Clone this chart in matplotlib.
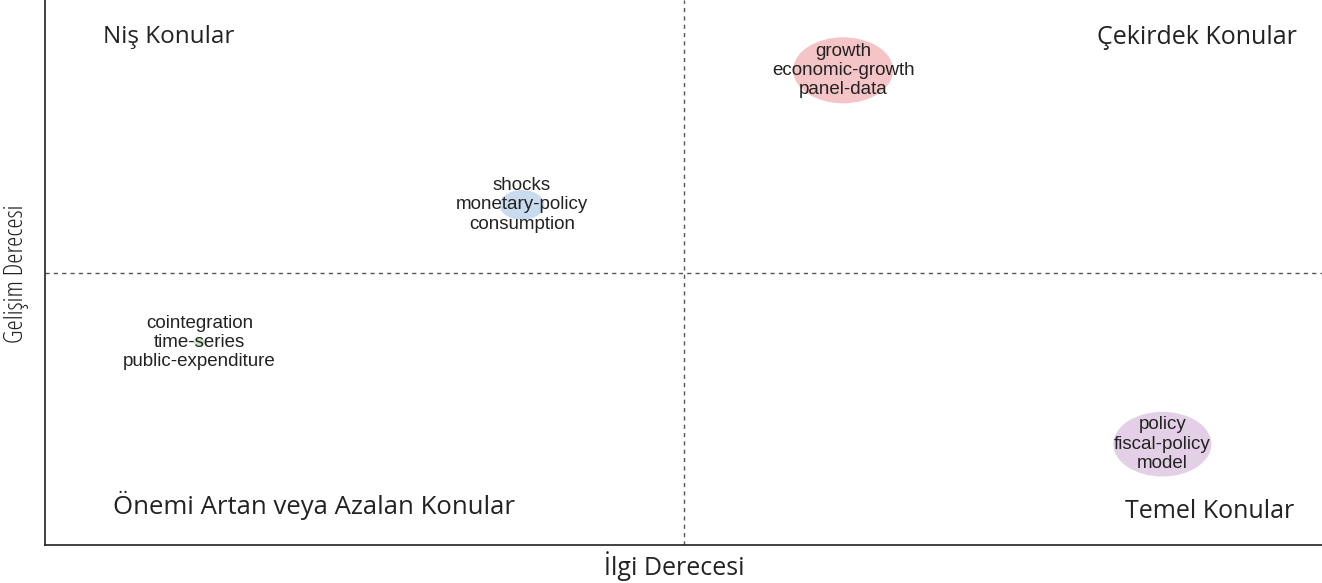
import matplotlib
matplotlib.use("Agg")
import matplotlib.pyplot as plt
from matplotlib.patches import Ellipse

# Data
centrality = [0.625, 0.3735, 0.121, 0.875]          # İlgi Derecesi (x)
density = [0.871, 0.624, 0.372, 0.185]             # Gelişim Derecesi (y)
bubble_size = [100, 45, 12, 98]                   # relative bubble size
labels = [
    "growth\neconomic-growth\npanel-data",
    "shocks\nmonetary-policy\nconsumption",
    "cointegration\ntime-series\npublic-expenditure",
    "policy\nfiscal-policy\nmodel",
]
colors = ["#f5c4c6", "#c9dbee", "#cfe8cc", "#e3cfe6"]
quadrant_labels = ["Niş Konular", "Çekirdek Konular",
                   "Önemi Artan veya Azalan Konular", "Temel Konular"]

W, H = 1322, 583
fig = plt.figure(figsize=(W / 100, H / 100), dpi=100)
ax_l, ax_b, ax_r, ax_t = 45, 38, 1322, 583
ax = fig.add_axes([ax_l / W, ax_b / H, (ax_r - ax_l) / W, (ax_t - ax_b) / H])
ax.set_xlim(0, 1)
ax.set_ylim(0, 1)
ax_wpx = ax_r - ax_l
ax_hpx = ax_t - ax_b

for x, y, s, lab, c in zip(centrality, density, bubble_size, labels, colors):
    e = Ellipse((x, y), width=s / ax_wpx, height=s * 0.66 / ax_hpx,
                facecolor=c, edgecolor="none", zorder=2)
    ax.add_patch(e)
    ax.text(x, y, lab, ha="center", va="center", fontsize=13.5,
            family="Liberation Sans", color="#222222", linespacing=1.17,
            zorder=3)

ax.axvline(0.5, color="#555555", lw=1, linestyle=(0, (3, 3)), zorder=1)
ax.axhline(0.5, color="#555555", lw=1, linestyle=(0, (3, 3)), zorder=1)

qfont = dict(family="Open Sans", color="#222222")
ax.text((103 - ax_l) / ax_wpx, 1 - 37 / ax_hpx, quadrant_labels[0],
        ha="left", va="center", fontsize=17.5, **qfont)
ax.text((1297 - ax_l) / ax_wpx, 1 - 37 / ax_hpx, quadrant_labels[1],
        ha="right", va="center", fontsize=18, **qfont)
ax.text((113 - ax_l) / ax_wpx, 1 - 505 / ax_hpx, quadrant_labels[2],
        ha="left", va="center", fontsize=18.5, **qfont)
ax.text((1294 - ax_l) / ax_wpx, 1 - 511 / ax_hpx, quadrant_labels[3],
        ha="right", va="center", fontsize=18, **qfont)

ax.set_xticks([])
ax.set_yticks([])
for sp in ["top", "right"]:
    ax.spines[sp].set_visible(False)
for sp in ["left", "bottom"]:
    ax.spines[sp].set_linewidth(1.2)
    ax.spines[sp].set_color("#222222")

fig.text(674 / W, 1 - 566 / H, "İlgi Derecesi", ha="center", va="center",
         family="Open Sans", fontsize=18, color="#222222")
fig.text(17 / W, 1 - 274 / H, "Gelişim Derecesi", ha="center", va="center",
         rotation=90, family="Open Sans", fontsize=18.5, color="#222222",
         stretch="condensed")

fig.savefig("out.png", dpi=100)
